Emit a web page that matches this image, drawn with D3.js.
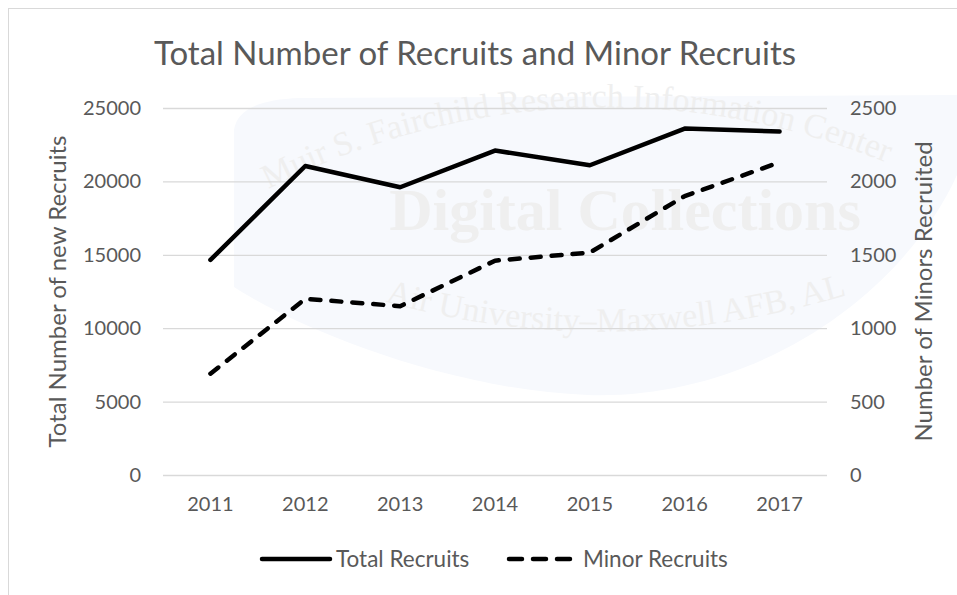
<!DOCTYPE html>
<html>
<head>
<meta charset="utf-8">
<script src="https://cdn.jsdelivr.net/npm/d3@7"></script>
<style>
  body { margin: 0; background: #fff; }
  text { font-family: Lato, "Open Sans", sans-serif; fill: #595959; }
  .wm { font-family: "Liberation Serif", "DejaVu Serif", serif; fill: #efefef; }
</style>
</head>
<body>
<svg id="chart"></svg>
<script>
var svgWidth = 957;
var svgHeight = 595;

// data
var years = ["2011", "2012", "2013", "2014", "2015", "2016", "2017"];
var totalRecruits = [14650, 21050, 19600, 22100, 21100, 23600, 23400];
var minorRecruits = [690, 1200, 1150, 1460, 1515, 1900, 2130];
var leftTicks = [0, 5000, 10000, 15000, 20000, 25000];
var rightTicks = [0, 500, 1000, 1500, 2000, 2500];

var margin = { left: 163, right: 130, top: 108, bottom: 120 };
var plotW = svgWidth - margin.left - margin.right;
var plotH = svgHeight - margin.top - margin.bottom;

var svg = d3.select("#chart")
  .attr("width", svgWidth)
  .attr("height", svgHeight);

// chart border
svg.append("rect")
  .attr("x", 8.5).attr("y", 8.5)
  .attr("width", 1000).attr("height", 1000)
  .attr("fill", "none")
  .attr("stroke", "#d9d9d9");

// faint watermark behind the plot
var wm = svg.append("g").attr("class", "watermark");
wm.append("path")
  .attr("d", "M234,130 Q238,100 300,98 L957,95 L957,175 C900,300 750,400 588,395 C450,390 300,330 234,287 Z")
  .attr("fill", "#f7f9fd");
wm.append("path").attr("id", "arcTop")
  .attr("d", "M255,196 A740,740 0 0,1 975,206").attr("fill", "none");
wm.append("text").attr("class", "wm")
  .style("font-size", "34px")
  .append("textPath").attr("href", "#arcTop").attr("startOffset", "2%")
  .text("Muir S. Fairchild Research Information Center");
wm.append("text").attr("class", "wm")
  .attr("x", 625).attr("y", 230)
  .attr("text-anchor", "middle")
  .style("font-size", "60px").style("font-weight", "bold")
  .text("Digital Collections");
wm.append("path").attr("id", "arcBot")
  .attr("d", "M380,300 Q620,370 880,285").attr("fill", "none");
wm.append("text").attr("class", "wm")
  .style("font-size", "34px")
  .append("textPath").attr("href", "#arcBot").attr("startOffset", "1%")
  .text("Air University\u2013Maxwell AFB, AL");

var x = d3.scaleBand().domain(years).range([0, plotW]);
var yLeft = d3.scaleLinear().domain([0, 25000]).range([plotH, 0]);
var yRight = d3.scaleLinear().domain([0, 2500]).range([plotH, 0]);

var g = svg.append("g")
  .attr("transform", "translate(" + margin.left + "," + margin.top + ")");

// gridlines + left axis
var leftAxis = g.append("g")
  .call(d3.axisLeft(yLeft).tickValues(leftTicks).tickSize(-plotW).tickPadding(22).tickFormat(d3.format("d")));
leftAxis.select(".domain").remove();
leftAxis.selectAll("line").attr("stroke", "#d9d9d9").attr("stroke-width", 1.3);
leftAxis.selectAll("text").style("font-size", "20px").attr("fill", "#595959");

var rightAxis = g.append("g")
  .attr("transform", "translate(" + plotW + ",0)")
  .call(d3.axisRight(yRight).tickValues(rightTicks).tickSize(0).tickPadding(23).tickFormat(d3.format("d")));
rightAxis.select(".domain").remove();
rightAxis.selectAll("text").style("font-size", "20px").attr("fill", "#595959");

var bottomAxis = g.append("g")
  .attr("transform", "translate(0," + plotH + ")")
  .call(d3.axisBottom(x).tickSize(0).tickPadding(22));
bottomAxis.select(".domain").remove();
bottomAxis.selectAll("text").style("font-size", "20px").attr("fill", "#595959");

var cx = function(d, i) { return x(years[i]) + x.bandwidth() / 2; };

var totalLine = d3.line().x(cx).y(function(d) { return yLeft(d); });
var minorLine = d3.line().x(cx).y(function(d) { return yRight(d); });

g.append("path")
  .datum(totalRecruits)
  .attr("d", totalLine)
  .attr("fill", "none")
  .attr("stroke", "#000")
  .attr("stroke-width", 4.5)
  .attr("stroke-linejoin", "round")
  .attr("stroke-linecap", "round");

g.append("path")
  .datum(minorRecruits)
  .attr("d", minorLine)
  .attr("fill", "none")
  .attr("stroke", "#000")
  .attr("stroke-width", 4.5)
  .attr("stroke-dasharray", "10,11")
  .attr("stroke-linejoin", "round")
  .attr("stroke-linecap", "round");

// titles
svg.append("text")
  .attr("x", 475).attr("y", 65)
  .attr("text-anchor", "middle")
  .style("font-size", "33px")
  .text("Total Number of Recruits and Minor Recruits");

svg.append("text")
  .attr("transform", "translate(66," + (margin.top + plotH / 2) + ") rotate(-90)")
  .attr("text-anchor", "middle")
  .style("font-size", "24px")
  .text("Total Number of new Recruits");

svg.append("text")
  .attr("transform", "translate(932," + (margin.top + plotH / 2) + ") rotate(-90)")
  .attr("text-anchor", "middle")
  .style("font-size", "24px")
  .text("Number of Minors Recruited");

// legend
var legendY = 559;
var legend = svg.append("g");
legend.append("line")
  .attr("x1", 262).attr("x2", 330).attr("y1", legendY).attr("y2", legendY)
  .attr("stroke", "#000").attr("stroke-width", 4.5).attr("stroke-linecap", "round");
legend.append("text")
  .attr("x", 336).attr("y", legendY + 8)
  .style("font-size", "22.5px")
  .text("Total Recruits");
legend.append("line")
  .attr("x1", 509).attr("x2", 570).attr("y1", legendY).attr("y2", legendY)
  .attr("stroke", "#000").attr("stroke-width", 4.5).attr("stroke-linecap", "round")
  .attr("stroke-dasharray", "13,11");
legend.append("text")
  .attr("x", 583).attr("y", legendY + 8)
  .style("font-size", "22.5px")
  .text("Minor Recruits");
</script>
</body>
</html>
